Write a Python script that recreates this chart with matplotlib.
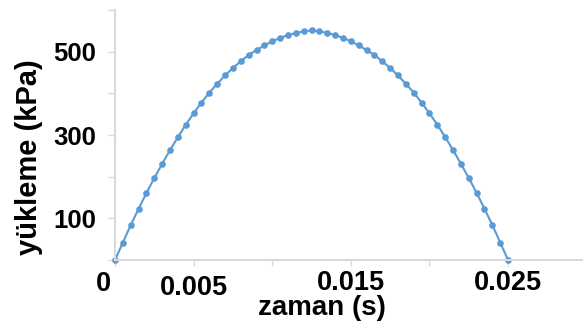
import matplotlib.pyplot as plt
from matplotlib.ticker import FixedLocator
from matplotlib.transforms import ScaledTranslation

# load pulse, sampled every 0.5 ms
time_ms = [0.0, 0.5, 1.0, 1.5, 2.0, 2.5, 3.0, 3.5, 4.0, 4.5,
           5.0, 5.5, 6.0, 6.5, 7.0, 7.5, 8.0, 8.5, 9.0, 9.5,
           10.0, 10.5, 11.0, 11.5, 12.0, 12.5, 13.0, 13.5, 14.0, 14.5,
           15.0, 15.5, 16.0, 16.5, 17.0, 17.5, 18.0, 18.5, 19.0, 19.5,
           20.0, 20.5, 21.0, 21.5, 22.0, 22.5, 23.0, 23.5, 24.0, 24.5,
           25.0]
load_kpa = [0, 42, 84, 123, 161, 197, 231, 264, 295, 325,
            352, 378, 402, 423, 443, 461, 477, 492, 504, 515,
            525, 533, 540, 545, 549, 551, 549, 545, 540, 533,
            525, 515, 504, 492, 477, 461, 443, 423, 402, 378,
            352, 325, 295, 264, 231, 197, 161, 123, 84, 42,
            0]

x_ticks = [0, 0.005, 0.01, 0.015, 0.02, 0.025, 0.03]
x_tick_labels = ['0', '0.005', '', '0.015', '', '0.025', '']
y_ticks = [0, 100, 200, 300, 400, 500, 600]
y_tick_labels = ['', '100', '', '300', '', '500', '']

plt.rcParams['font.family'] = ['Liberation Sans', 'DejaVu Sans']
plt.rcParams['font.weight'] = 'bold'

fig = plt.figure(figsize=(5.83, 3.25), dpi=100)
ax = fig.add_axes([0.1973, 0.2, 0.809, 0.769])

time_s = [t / 1000 for t in time_ms]
ax.plot(time_s, load_kpa, color='#5b9bd5', lw=1.5, marker='o',
        markersize=4.8, markeredgewidth=0, clip_on=False)

ax.set_xlim(0, 0.03)
ax.set_ylim(0, 600)

ax.xaxis.set_major_locator(FixedLocator(x_ticks))
ax.set_xticklabels(x_tick_labels, fontsize=19.5, fontweight='bold')
ax.yaxis.set_major_locator(FixedLocator(y_ticks))
ax.set_yticklabels(y_tick_labels, fontsize=18.5, fontweight='bold')

for side in ['top', 'right']:
    ax.spines[side].set_visible(False)
for side in ['left', 'bottom']:
    ax.spines[side].set_color('#d9d9d9')
    ax.spines[side].set_linewidth(1.5)

ax.tick_params(axis='x', direction='out', length=4.5, width=1,
               color='#d9d9d9', pad=3)
ax.tick_params(axis='y', direction='out', length=5, width=1,
               color='#d9d9d9', pad=8.5)

# nudge a couple of x labels: zero sits left of the origin, 0.005 a bit lower
xlabels = ax.get_xticklabels()
xlabels[0].set_transform(xlabels[0].get_transform()
                         + ScaledTranslation(-0.12, -0.01, fig.dpi_scale_trans))
xlabels[1].set_transform(xlabels[1].get_transform()
                         + ScaledTranslation(0, -0.05, fig.dpi_scale_trans))

ax.set_xlabel('zaman (s)', fontsize=20, fontweight='bold')
ax.xaxis.set_label_coords(0.438, -0.142)
ax.xaxis.label.set_va('top')
ax.set_ylabel('yükleme (kPa)', fontsize=21, fontweight='bold')
ax.yaxis.set_label_coords(-0.153, 0.41)

fig.savefig('out.png', dpi=100)
